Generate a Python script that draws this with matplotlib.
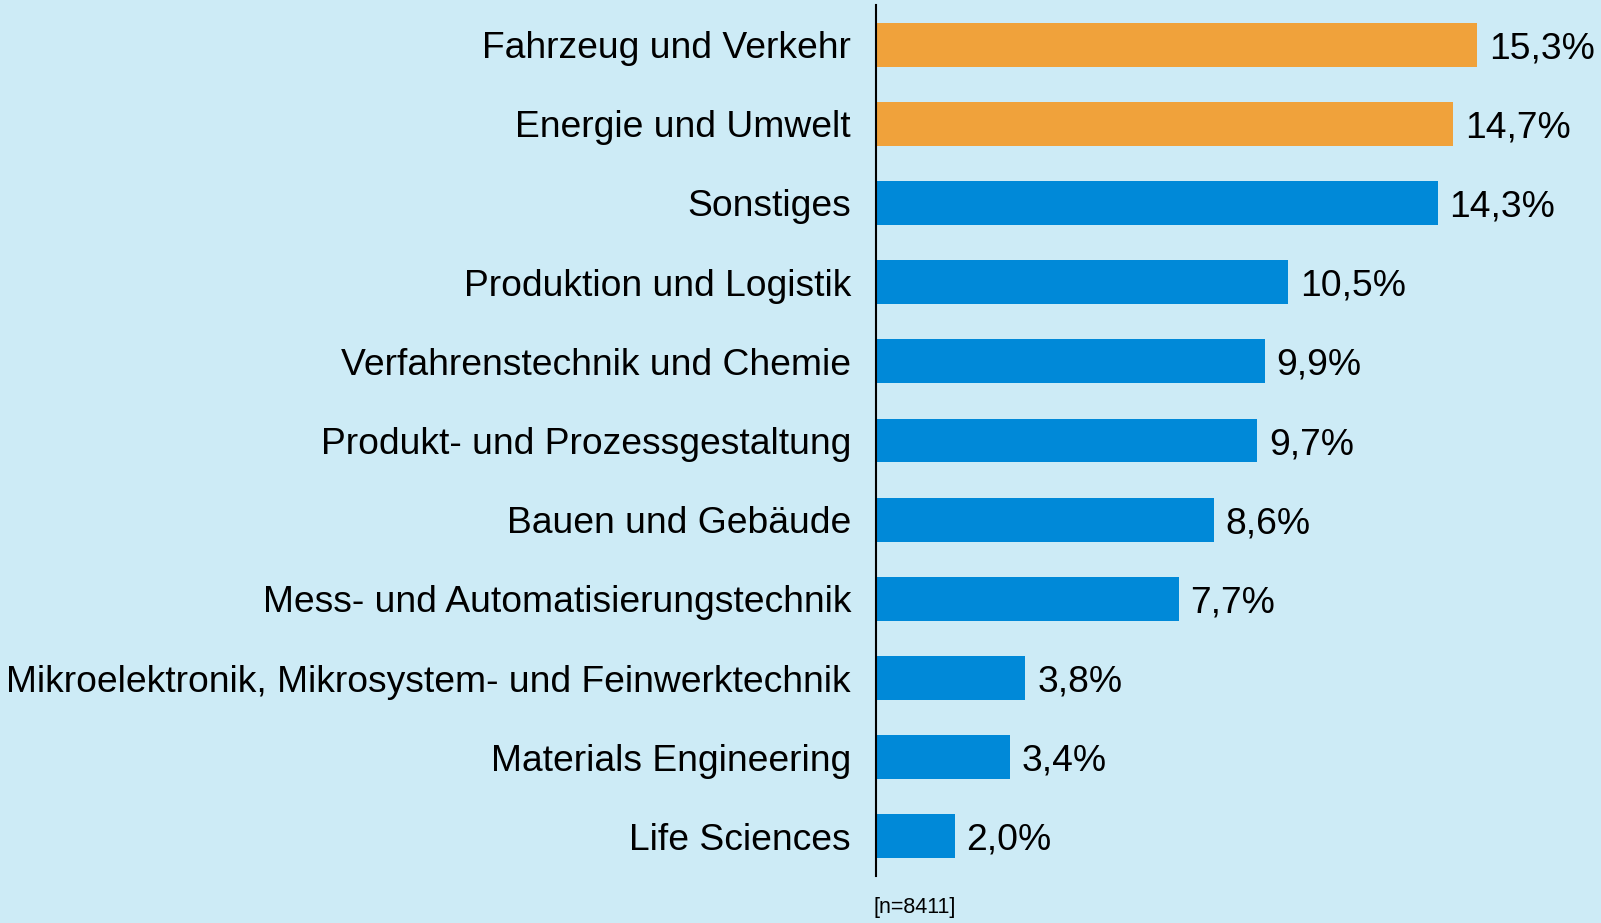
import matplotlib.pyplot as plt

categories = [
    'Fahrzeug und Verkehr',
    'Energie und Umwelt',
    'Sonstiges',
    'Produktion und Logistik',
    'Verfahrenstechnik und Chemie',
    'Produkt- und Prozessgestaltung',
    'Bauen und Gebäude',
    'Mess- und Automatisierungstechnik',
    'Mikroelektronik, Mikrosystem- und Feinwerktechnik',
    'Materials Engineering',
    'Life Sciences',
]
values = [15.3, 14.7, 14.3, 10.5, 9.9, 9.7, 8.6, 7.7, 3.8, 3.4, 2.0]
highlight = [True, True, False, False, False, False, False, False, False, False, False]
note = '[n=8411]'

bg = '#CDEBF6'
orange = '#F0A23B'
blue = '#0089D8'

plt.rcParams['font.family'] = ['Liberation Sans', 'DejaVu Sans']

fig = plt.figure(figsize=(16.01, 9.23), dpi=100)
fig.set_facecolor(bg)
ax = fig.add_axes([0.5472, 0.0509, 0.4416, 0.9437])
ax.set_facecolor(bg)

pos = list(range(len(categories)))
colors = [orange if h else blue for h in highlight]
ax.barh(pos, values, height=0.555, color=colors)

# value labels, german decimal comma
for p, v in zip(pos, values):
    ax.text(v + 0.3, p, f'{v:.1f}%'.replace('.', ','), va='center_baseline', ha='left',
            fontsize=26.8, color='black')

ax.set_yticks(pos)
ax.set_yticklabels(categories, fontsize=26.8)
ax.tick_params(axis='y', length=0, pad=18)
ax.set_xticks([])
ax.set_ylim(len(categories) - 0.5, -0.5)
ax.set_xlim(0, 18)

for s in ['top', 'right', 'bottom']:
    ax.spines[s].set_visible(False)
ax.spines['left'].set_color('black')
ax.spines['left'].set_linewidth(1.5)

fig.text(873 / 1601, 1 - 908 / 923, note, fontsize=15.5, ha='left', va='center')

plt.savefig('out.png', dpi=100, facecolor=bg)
